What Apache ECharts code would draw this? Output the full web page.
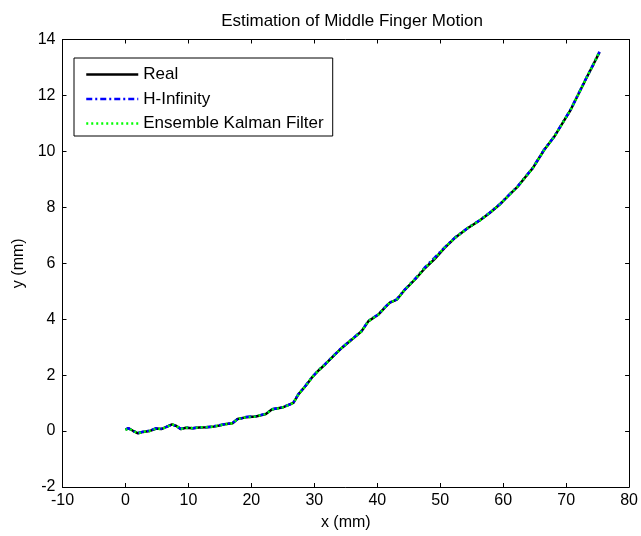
<!DOCTYPE html>
<html>
<head>
<meta charset="utf-8">
<script src="https://cdn.jsdelivr.net/npm/echarts@6/dist/echarts.min.js"></script>
<style>
  html, body { margin: 0; padding: 0; background: #fff; }
  #main { width: 641px; height: 536px; }
</style>
</head>
<body>
<div id="main"></div>
<script>
// x positions (mm)
var xs = [0.0, 0.5, 1.2, 2.0, 2.8, 3.8, 4.9, 5.7, 6.5, 7.4, 8.1, 8.8, 9.6, 10.7, 11.7, 12.8, 13.8,
    14.9, 15.7, 17.0, 17.8, 19.1, 20.7, 22.3, 23.3, 24.9, 26.2, 26.7, 27.5, 28.6, 29.6, 30.6,
    31.75, 33.3, 34.4, 36.0, 37.5, 38.6, 40.2, 41.2, 42.0, 43.1, 44.4, 46.0, 47.6, 49.1, 50.7,
    52.3, 54.4, 56.2, 57.8, 59.4, 61.0, 62.3, 63.6, 64.7, 66.5, 68.1, 69.4, 70.7, 72.0, 73.3,
    74.4, 75.3];
// measured motion
var realY = [0.05, 0.1, 0.01, -0.08, -0.03, 0.0, 0.09, 0.07, 0.15, 0.24, 0.18, 0.07, 0.12, 0.1, 0.13,
    0.14, 0.15, 0.2, 0.24, 0.28, 0.43, 0.49, 0.52, 0.61, 0.78, 0.84, 0.96, 1.02, 1.32, 1.61, 1.91,
    2.15, 2.39, 2.74, 2.98, 3.28, 3.57, 3.93, 4.17, 4.41, 4.59, 4.7, 5.06, 5.42, 5.83, 6.15, 6.55,
    6.9, 7.26, 7.52, 7.79, 8.09, 8.45, 8.74, 9.1, 9.4, 10.05, 10.52, 11.0, 11.48, 12.07, 12.66,
    13.14, 13.55];
// H-infinity estimate
var hinfY = [0.06, 0.1, 0.0, -0.07, -0.02, 0.01, 0.1, 0.08, 0.15, 0.23, 0.17, 0.08, 0.13, 0.1, 0.14,
    0.14, 0.16, 0.21, 0.24, 0.29, 0.42, 0.5, 0.53, 0.62, 0.78, 0.85, 0.96, 1.03, 1.33, 1.62, 1.92,
    2.16, 2.4, 2.75, 2.99, 3.29, 3.58, 3.94, 4.18, 4.42, 4.6, 4.71, 5.07, 5.44, 5.86, 6.2, 6.57,
    6.91, 7.27, 7.53, 7.8, 8.1, 8.46, 8.75, 9.11, 9.41, 10.06, 10.53, 11.01, 11.49, 12.08, 12.67,
    13.15, 13.56];
// ensemble Kalman filter estimate
var enkfY = [0.04, 0.09, 0.01, -0.08, -0.03, 0.0, 0.09, 0.07, 0.14, 0.24, 0.18, 0.07, 0.12, 0.1, 0.13,
    0.14, 0.15, 0.2, 0.24, 0.28, 0.43, 0.49, 0.52, 0.61, 0.77, 0.84, 0.95, 1.02, 1.32, 1.61, 1.91,
    2.15, 2.39, 2.74, 2.98, 3.28, 3.57, 3.93, 4.17, 4.41, 4.59, 4.7, 5.06, 5.43, 5.84, 6.17, 6.56,
    6.9, 7.26, 7.52, 7.79, 8.09, 8.45, 8.74, 9.1, 9.4, 10.05, 10.52, 11.0, 11.48, 12.07, 12.66,
    13.14, 13.57];
var seriesNames = ['Real', 'H-Infinity', 'Ensemble Kalman Filter'];

function pairs(ys) {
    return xs.map(function (x, i) { return [x, ys[i]]; });
}

var font = 'Liberation Sans, Arial, Helvetica, sans-serif';
var chart = echarts.init(document.getElementById('main'));

var axisCommon = {
    type: 'value',
    splitLine: {show: false},
    axisLine: {show: true, onZero: false, lineStyle: {color: '#000', width: 1}},
    axisTick: {show: true, inside: true, length: 4, lineStyle: {color: '#000'}}
};

var option = {
    backgroundColor: '#fff',
    animation: false,
    title: {
        text: 'Estimation of Middle Finger Motion',
        left: 347,
        textAlign: 'center',
        top: 8,
        textStyle: {fontFamily: font, fontSize: 17, fontWeight: 'normal', color: '#000'}
    },
    legend: {
        data: seriesNames,
        orient: 'vertical',
        left: 74,
        top: 58,
        itemWidth: 52,
        itemHeight: 14,
        itemGap: 7.5,
        padding: [8, 9, 4, 11],
        borderColor: '#000',
        borderWidth: 1,
        backgroundColor: '#fff',
        itemStyle: {opacity: 0},  // hide the circle, keep the line
        lineStyle: {width: 2.5},
        textStyle: {fontFamily: font, fontSize: 17, color: '#000', lineHeight: 17}
    },
    grid: {left: 62.5, right: 9, top: 39.5, bottom: 48},
    xAxis: [
        Object.assign({}, axisCommon, {
            position: 'bottom', min: -10, max: 80, interval: 10,
            name: 'x (mm)', nameLocation: 'middle', nameGap: 28,
            nameTextStyle: {fontFamily: font, fontSize: 16, color: '#000'},
            axisLabel: {fontFamily: font, fontSize: 16, color: '#000', margin: 6}
        }),
        Object.assign({}, axisCommon, {
            position: 'top', min: -10, max: 80, interval: 10,
            axisLabel: {show: false}
        })
    ],
    yAxis: [
        Object.assign({}, axisCommon, {
            position: 'left', min: -2, max: 14, interval: 2,
            name: 'y (mm)', nameLocation: 'middle', nameGap: 33, nameRotate: 90,
            nameTextStyle: {fontFamily: font, fontSize: 16, color: '#000'},
            axisLabel: {fontFamily: font, fontSize: 16, color: '#000', margin: 7}
        }),
        Object.assign({}, axisCommon, {
            position: 'right', min: -2, max: 14, interval: 2,
            axisLabel: {show: false}
        })
    ],
    series: [
        {
            name: seriesNames[0], type: 'line', data: pairs(realY),
            showSymbol: false, symbol: 'none',
            lineStyle: {color: '#000', width: 2.5, type: 'solid'},
            itemStyle: {color: '#000'}
        },
        {
            name: seriesNames[1], type: 'line', data: pairs(hinfY),
            showSymbol: false, symbol: 'none',
            lineStyle: {color: '#0000ff', width: 2.5, type: [6, 3, 2, 3]},
            itemStyle: {color: '#0000ff'}
        },
        {
            name: seriesNames[2], type: 'line', data: pairs(enkfY),
            showSymbol: false, symbol: 'none',
            lineStyle: {color: '#00ff00', width: 2.5, type: [2, 3]},
            itemStyle: {color: '#00ff00'}
        }
    ]
};
chart.setOption(option);
</script>
</body>
</html>
